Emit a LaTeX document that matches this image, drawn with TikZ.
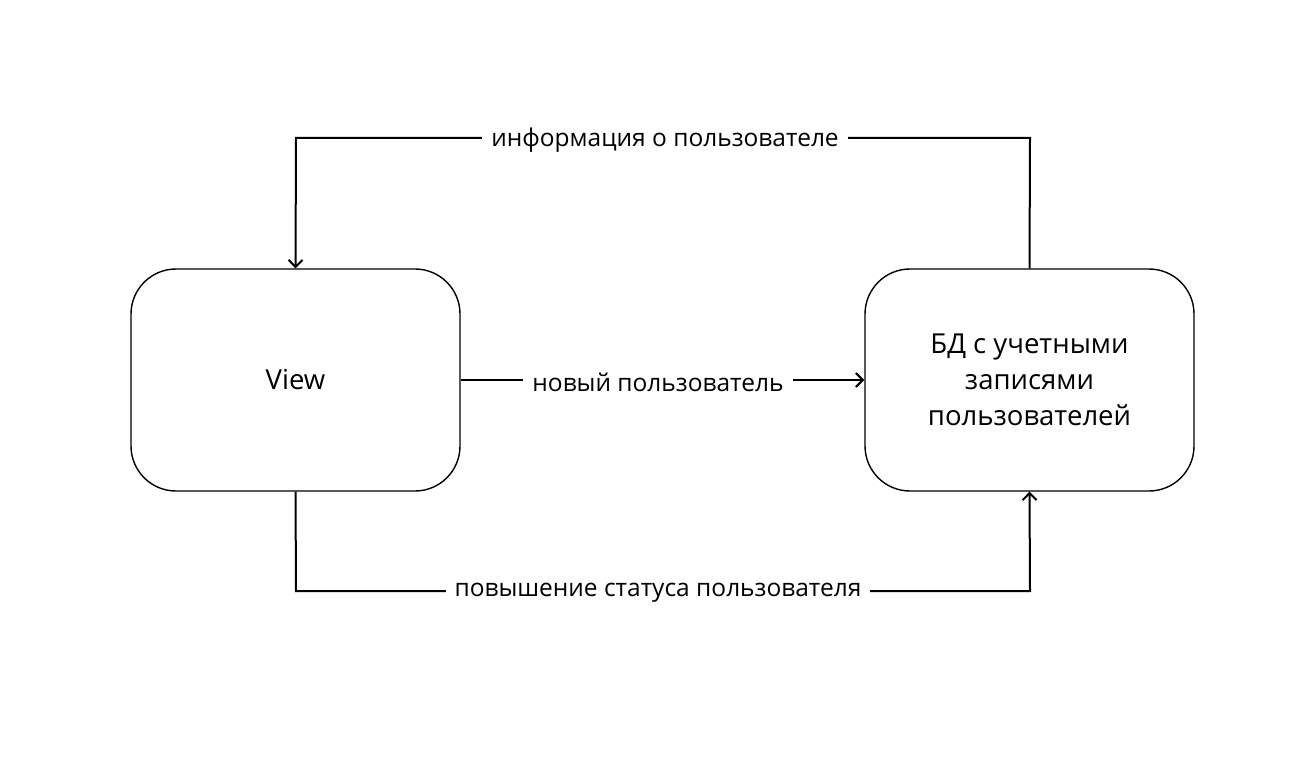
\documentclass[tikz,border=0pt]{standalone}
\usepackage{fontspec}
\setmainfont{Open Sans}
\usetikzlibrary{arrows.meta}
\begin{document}
\begin{tikzpicture}[x=1pt,y=-1pt,
  box/.style={draw, line width=1.4pt, rounded corners=45pt, minimum width=329pt, minimum height=222pt, align=center, font=\fontsize{27.5}{36}\selectfont, inner sep=0pt},
  conn/.style={line width=2pt, -{Straight Barb[length=7pt,width=14pt,line width=2pt]}},
  lbl/.style={fill=white, inner xsep=9pt, inner ysep=2pt, font=\fontsize{24.5}{28}\selectfont}]
\useasboundingbox (0,0) rectangle (1316,759);
\node[box] (view) at (295.5,380) {View};
\node[box] (db) at (1029.5,380) {БД с учетными\\записями\\пользователей};
\coordinate (tl) at (296,138);
\coordinate (tr) at (1030,138);
\coordinate (bl) at (296,591);
\coordinate (br) at (1030,591);
\draw[conn] (db.north) -- (tr) -- (tl) -- (view.north);
\node[lbl] (l1) at (665,140) {информация о пользователе};
\draw[conn] (view.east) -- (db.west);
\node[lbl] (l2) at (658,382) {новый пользователь};
\draw[conn] (view.south) -- (bl) -- (br) -- (db.south);
\node[lbl] (l3) at (658,593) {повышение статуса пользователя};
\end{tikzpicture}
\end{document}
